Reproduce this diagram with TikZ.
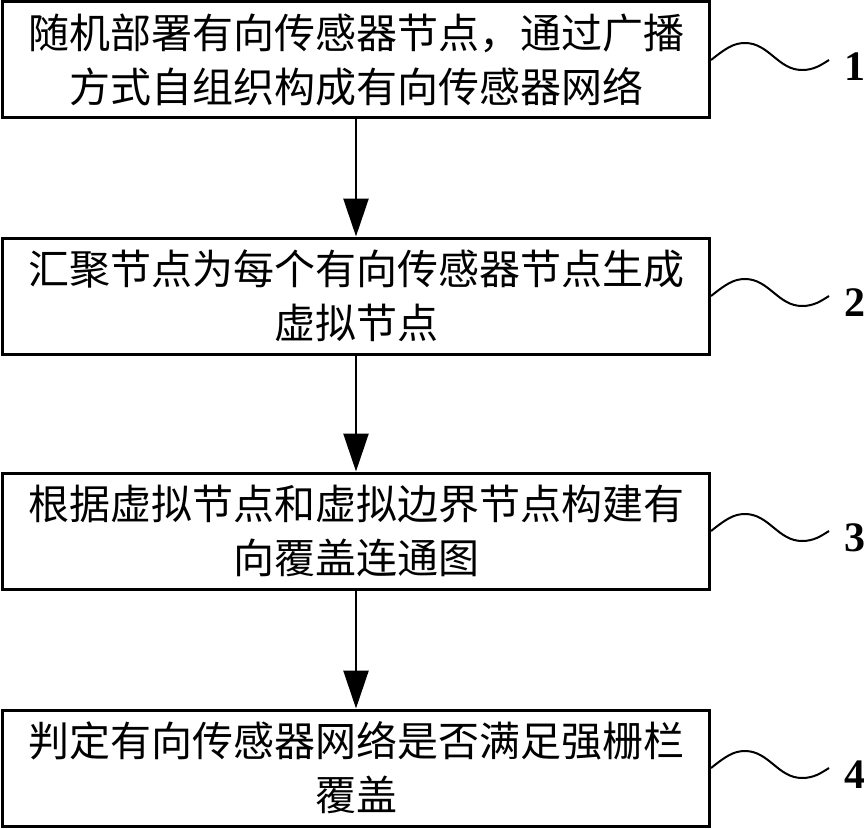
\documentclass[tikz,border=0pt]{standalone}
\usepackage{fontspec}
\setmainfont{Liberation Serif}
\newfontfamily\cjk{Noto Sans CJK SC}
\usetikzlibrary{arrows.meta}

\begin{document}
\begin{tikzpicture}[x = 1pt, y = -1pt,
    stepbox/.style = {draw, line width = 3pt, minimum width = 707pt, minimum height = 116pt,
      inner sep = 0pt, align = center, font = \cjk\fontsize{41}{54}\selectfont},
    flow/.style = {line width = 2.5pt, -{Triangle[length = 38pt, width = 25pt]}},
    wave/.style = {line width = 2pt},
    stepnum/.style = {font = \bfseries\fontsize{42}{42}\selectfont, inner sep = 0pt}]
  \useasboundingbox (0, 0) rectangle (864, 829);

  \node[stepbox] (s1) at (356, 60) {随机部署有向传感器节点，通过广播\\方式自组织构成有向传感器网络};
  \node[stepbox] (s2) at (356, 296) {汇聚节点为每个有向传感器节点生成\\虚拟节点};
  \node[stepbox] (s3) at (356, 531) {根据虚拟节点和虚拟边界节点构建有\\向覆盖连通图};
  \node[stepbox] (s4) at (356, 768) {判定有向传感器网络是否满足强栅栏\\覆盖};

  \foreach \a/\b in {s1/s2, s2/s3, s3/s4}
    \draw[flow] (\a.south) -- (\b.north);

  \foreach \n in {1, ..., 4} {
    \node[stepnum] (n\n) at ([shift = {(144, 7)}]s\n.east) {\n};
    \draw[wave] (s\n.east) .. controls +(14, -11) and +(-12, 0) .. ++(34, -17)
      .. controls +(24, 0) and +(-24, 0) .. ++(57, 27)
      .. controls +(12, 0) and +(-8, 5) .. ++(27, -10);
  }
\end{tikzpicture}
\end{document}
